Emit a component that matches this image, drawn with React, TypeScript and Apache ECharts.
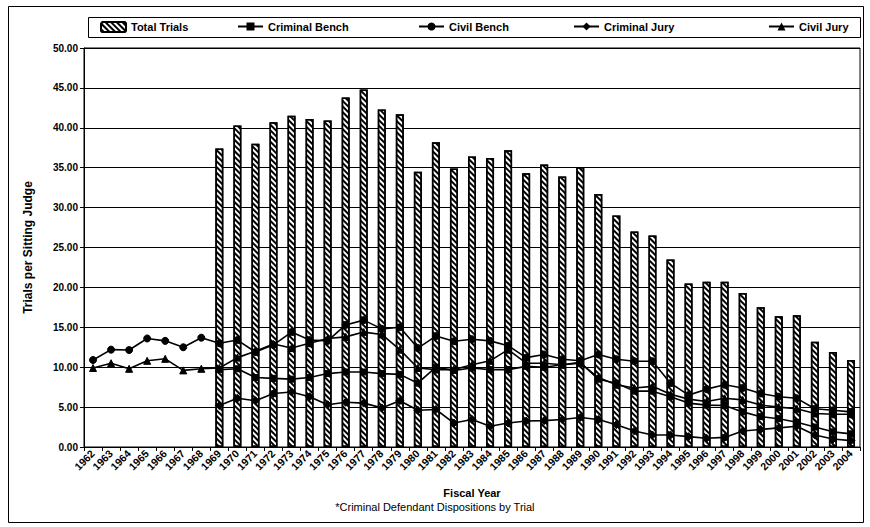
import React, { useEffect, useRef } from "react";
import * as echarts from "echarts";

const years: string[] = [
  "1962","1963","1964","1965","1966","1967","1968","1969","1970","1971","1972",
  "1973","1974","1975","1976","1977","1978","1979","1980","1981","1982","1983",
  "1984","1985","1986","1987","1988","1989","1990","1991","1992","1993","1994",
  "1995","1996","1997","1998","1999","2000","2001","2002","2003","2004",
];

const pre = [null, null, null, null, null, null, null];

const totalTrials = [...pre,
  37.4, 40.3, 38.0, 40.7, 41.5, 41.1, 40.9, 43.8, 44.8, 42.3, 41.7,
  34.5, 38.2, 34.9, 36.4, 36.2, 37.2, 34.3, 35.4, 33.9, 35.1,
  31.7, 29.0, 27.0, 26.5, 23.5, 20.5, 20.7, 20.7, 19.3, 17.5,
  16.4, 16.5, 13.2, 11.9, 10.9];

const criminalBench = [...pre,
  9.7, 9.8, 8.7, 8.6, 8.5, 8.7, 9.2, 9.4, 9.4, 9.2, 9.1,
  8.0, 10.0, 9.6, 9.9, 9.7, 9.7, 10.1, 10.0, 10.3, 10.6,
  8.5, 8.0, 7.0, 7.0, 6.3, 5.5, 5.25, 5.2, 4.4, 3.8,
  3.55, 3.1, 2.5, 1.9, 1.65];

const civilBench = [10.9, 12.2, 12.15, 13.6, 13.3, 12.5, 13.7,
  13.0, 13.4, 11.9, 12.8, 14.4, 13.4, 13.3, 15.3, 15.9, 14.8, 15.0,
  12.4, 13.9, 13.25, 13.5, 13.3, 12.7, 11.2, 11.6, 11.0, 10.8,
  11.6, 11.0, 10.75, 10.75, 8.0, 6.5, 7.25, 7.8, 7.4, 6.7,
  6.3, 6.1, 4.8, 4.6, 4.4];

const criminalJury = [...pre,
  5.2, 6.1, 5.8, 6.7, 6.9, 6.3, 5.3, 5.6, 5.5, 4.9, 5.8,
  4.6, 4.7, 3.0, 3.45, 2.6, 3.0, 3.25, 3.3, 3.45, 3.7,
  3.45, 2.8, 2.0, 1.5, 1.5, 1.3, 1.1, 1.2, 2.0, 2.2,
  2.4, 2.6, 1.5, 1.0, 0.8];

const civilJury = [9.9, 10.5, 9.8, 10.8, 11.05, 9.6, 9.8,
  9.9, 11.2, 12.0, 12.9, 12.4, 13.0, 13.6, 13.8, 14.4, 14.1, 12.2,
  9.9, 9.7, 9.7, 10.3, 10.8, 12.2, 10.5, 10.5, 10.3, 10.5,
  8.7, 7.8, 7.4, 7.6, 6.6, 6.0, 5.7, 6.1, 5.9, 5.25,
  5.0, 4.8, 4.2, 4.1, 4.1];

const seriesNames = ["Total Trials", "Criminal Bench", "Civil Bench", "Criminal Jury", "Civil Jury"];
const legendLefts = [100, 237, 418, 573, 768];

const FONT = "'Liberation Sans', Arial, sans-serif";

export default function App() {
  const ref = useRef<HTMLDivElement>(null);
  useEffect(() => {
    if (!ref.current) return;
    const chart = echarts.init(ref.current, null, { renderer: "svg" });
    const lineSeries = (name: string, data: any[], symbol: string, size: number) => ({
      name,
      type: "line",
      data,
      symbol,
      symbolSize: size,
      connectNulls: false,
      z: 5,
      lineStyle: { color: "#000", width: 1.6 },
      itemStyle: { color: "#000", borderColor: "#000" },
    });
    chart.setOption({
      animation: false,
      backgroundColor: "#fff",
      textStyle: { fontFamily: FONT },
      legend: seriesNames.map((n, i) => ({
        data: [n],
        left: legendLefts[i],
        top: 21,
        itemWidth: 25,
        itemHeight: 10,
        itemGap: 4,
        padding: 0,
        textStyle: { fontFamily: FONT, fontWeight: "bold", fontSize: 11, color: "#000" },
      })),
      graphic: [
        { type: "rect", shape: { x: 8.5, y: 6.5, width: 855, height: 516 }, style: { fill: "none", stroke: "#000", lineWidth: 1 }, silent: true },
        { type: "rect", shape: { x: 88.5, y: 17.5, width: 772, height: 20 }, style: { fill: "none", stroke: "#000", lineWidth: 1 }, silent: true },
        {
          type: "text",
          left: "center",
          top: 501,
          style: { text: "*Criminal Defendant Dispositions by Trial", fontFamily: FONT, fontSize: 11, fill: "#000" },
        },
      ],
      grid: { left: 84, right: 10, top: 48, bottom: 80, show: true, borderColor: "#000", borderWidth: 1 },
      xAxis: {
        type: "category",
        data: years,
        boundaryGap: true,
        name: "Fiscal Year",
        nameLocation: "middle",
        nameGap: 40,
        nameTextStyle: { fontFamily: FONT, fontWeight: "bold", fontSize: 11, color: "#000" },
        axisLine: { lineStyle: { color: "#000", width: 1 } },
        axisTick: { show: true, alignWithLabel: false, length: 4, lineStyle: { color: "#000" } },
        axisLabel: { rotate: 45, interval: 0, fontFamily: FONT, fontWeight: "bold", fontSize: 10.5, color: "#000", margin: 5 },
        splitLine: { show: false },
      },
      yAxis: {
        type: "value",
        min: 0,
        max: 50,
        interval: 5,
        name: "Trials per Sitting Judge",
        nameLocation: "middle",
        nameGap: 50,
        nameTextStyle: { fontFamily: FONT, fontWeight: "bold", fontSize: 12, color: "#000" },
        axisLine: { show: true, lineStyle: { color: "#000", width: 1 } },
        axisTick: { show: true, length: 4, lineStyle: { color: "#000" } },
        axisLabel: { formatter: (v: number) => v.toFixed(2), fontFamily: FONT, fontWeight: "bold", fontSize: 10, color: "#000", margin: 6 },
        splitLine: { show: true, lineStyle: { color: "#000", width: 1 } },
      },
      series: [
        {
          name: "Total Trials",
          type: "bar",
          data: totalTrials,
          barWidth: 8,
          z: 2,
          itemStyle: {
            color: "#fff",
            borderColor: "#000",
            borderWidth: 1.5,
            decal: {
              symbol: "rect",
              symbolSize: 1,
              color: "#000",
              backgroundColor: "#fff",
              dashArrayX: [1, 0],
              dashArrayY: [2, 2],
              rotation: Math.PI / 4,
            },
          },
        },
        lineSeries("Criminal Bench", criminalBench, "rect", 6),
        lineSeries("Civil Bench", civilBench, "circle", 7),
        lineSeries("Criminal Jury", criminalJury, "diamond", 8),
        lineSeries("Civil Jury", civilJury, "triangle", 7),
      ],
    });
    return () => chart.dispose();
  }, []);
  return (
    <div
      ref={ref}
      style={{ position: "fixed", left: 0, top: 0, width: 870, height: 527 }}
    />
  );
}
